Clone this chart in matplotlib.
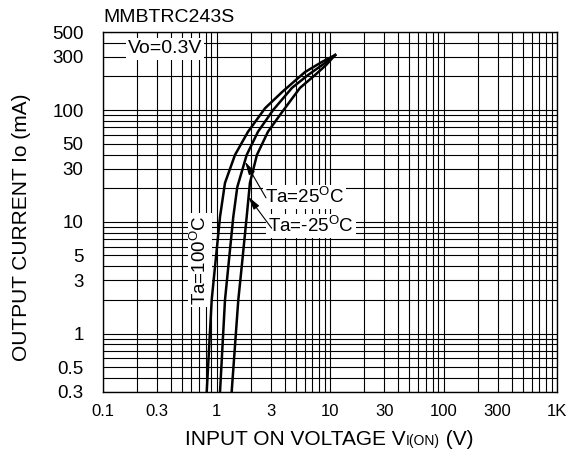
import matplotlib
matplotlib.use("Agg")
import matplotlib.pyplot as plt
import numpy as np
from matplotlib.ticker import LogLocator, FixedLocator, FixedFormatter, NullFormatter

plt.rcParams["font.family"] = ["Liberation Sans", "DejaVu Sans"]
plt.rcParams["mathtext.fontset"] = "custom"
plt.rcParams["mathtext.rm"] = "Liberation Sans"
plt.rcParams["mathtext.default"] = "regular"

# Output current Io (mA) versus input on voltage VI(ON) (V), Vo = 0.3 V
v_100 = [0.82, 0.907, 0.97, 1.074, 1.188, 1.455, 1.895, 2.68, 3.78, 6.02, 8.5, 11.1]
i_100 = [0.3, 2.0, 3.95, 11.1, 22.3, 39.7, 64, 104, 145, 219, 270, 311]

v_25 = [1.074, 1.188, 1.27, 1.406, 1.525, 1.845, 2.32, 3.15, 4.62, 6.40, 9.04, 11.1]
i_25 = [0.3, 2.0, 3.95, 11.1, 20.5, 39.7, 64, 100, 158, 206, 264, 311]

v_m25 = [1.36, 1.556, 1.667, 1.845, 1.97, 2.27, 2.84, 3.78, 5.44, 7.38, 9.2, 11.1]
i_m25 = [0.3, 2.0, 3.95, 11.1, 22.3, 39.7, 64, 96, 158, 206, 252, 311]

x_ticks = [0.1, 0.3, 1, 3, 10, 30, 100, 300, 1000]
x_labels = ["0.1", "0.3", "1", "3", "10", "30", "100", "300", "1K"]
y_ticks = [0.3, 0.5, 1, 3, 5, 10, 30, 50, 100, 300, 500]
y_labels = ["0.3", "0.5", "1", "3", "5", "10", "30", "50", "100", "300", "500"]

W, H = 571, 455
fig = plt.figure(figsize=(W / 100, H / 100), dpi=100)
L, R, T, B = 103, 557, 32, 392
ax = fig.add_axes([L / W, 1 - B / H, (R - L) / W, (B - T) / H])

ax.set_xscale("log")
ax.set_yscale("log")
ax.set_xlim(0.1, 1000)
ax.set_ylim(0.3, 500)

ax.xaxis.set_major_locator(FixedLocator(x_ticks))
ax.xaxis.set_major_formatter(FixedFormatter(x_labels))
ax.yaxis.set_major_locator(FixedLocator(y_ticks))
ax.yaxis.set_major_formatter(FixedFormatter(y_labels))
ax.xaxis.set_minor_locator(LogLocator(base=10, subs=np.arange(1, 10), numticks=100))
ax.yaxis.set_minor_locator(LogLocator(base=10, subs=np.arange(1, 10), numticks=100))
ax.xaxis.set_minor_formatter(NullFormatter())
ax.yaxis.set_minor_formatter(NullFormatter())

ax.tick_params(which="both", length=0)
ax.tick_params(axis="x", labelsize=12, pad=9)
ax.tick_params(axis="y", labelsize=13.5, pad=14)

ax.set_axisbelow(True)
ax.grid(which="both", color="black", linewidth=0.8)
for s in ax.spines.values():
    s.set_linewidth(1.0)
    s.set_color("black")

for v, i in [(v_100, i_100), (v_25, i_25), (v_m25, i_m25)]:
    ax.plot(v, i, color="black", linewidth=1.8, zorder=5, solid_joinstyle="round")

box = dict(facecolor="white", edgecolor="none", pad=1.5)

ax.text(0.055, 0.953, "Vo=0.3V", transform=ax.transAxes, fontsize=14,
        ha="left", va="center", bbox=box, zorder=3)

ax.text(2.675, 14.8, r"Ta=25$^{O}$C", fontsize=13.5, ha="left",
        va="baseline", bbox=box, zorder=3)
ax.text(2.84, 8.13, r"Ta=-25$^{O}$C", fontsize=13.5, ha="left",
        va="baseline", bbox=box, zorder=3)
ax.text(0.72, 4.57, r"Ta=100$^{O}$C", fontsize=13.5, ha="center",
        va="center", rotation=90, bbox=box, zorder=3)

arrow = dict(arrowstyle="-|>,head_length=0.8,head_width=0.2",
             color="black", lw=0.8, shrinkA=0, shrinkB=0)
ax.annotate("", xy=(1.783, 34.6), xytext=(2.73, 16.4), arrowprops=arrow, zorder=6)
ax.annotate("", xy=(1.905, 16.8), xytext=(3.06, 8.77), arrowprops=arrow, zorder=6)

fig.text(L / W, 1 - 18 / H, "MMBTRC243S", fontsize=14, ha="left", va="center")

fig.text(22 / W, 1 - 227 / H, "OUTPUT CURRENT Io (mA)", fontsize=15,
         rotation=90, ha="center", va="center")

base_y = 10 / H
t1 = fig.text(185 / W, base_y, "INPUT ON VOLTAGE V", fontsize=15,
              ha="left", va="baseline")
t2 = ax.annotate("I(ON)", xy=(1.0, base_y), xycoords=(t1, "figure fraction"),
                 fontsize=10, ha="left", va="baseline", annotation_clip=False)
t3 = ax.annotate(" (V)", xy=(1.0, base_y), xycoords=(t2, "figure fraction"),
                 fontsize=15, ha="left", va="baseline", annotation_clip=False)

fig.savefig("out.png", dpi=100)
